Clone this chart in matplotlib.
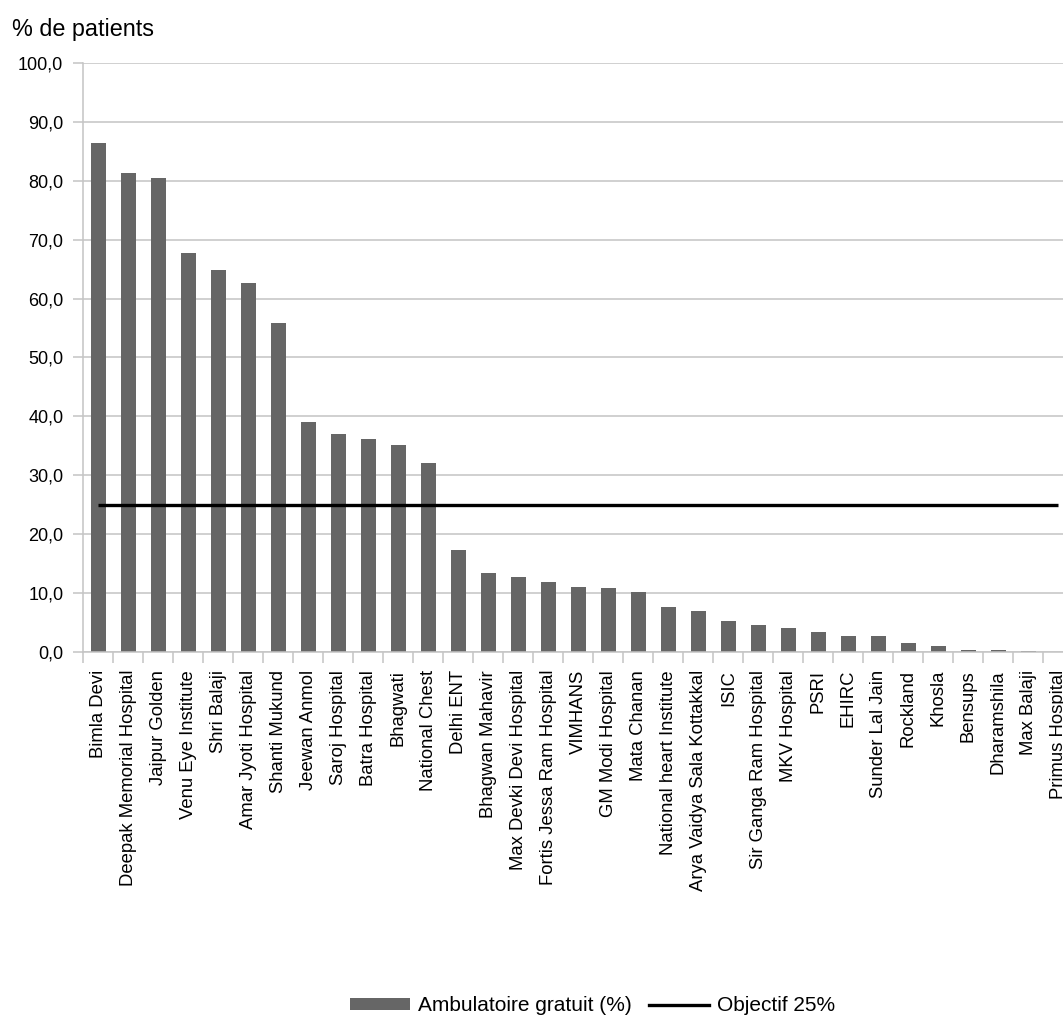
"""Ambulatoire gratuit par hôpital, avec objectif 25 %."""

import matplotlib
matplotlib.use("Agg")
import matplotlib.pyplot as plt
from matplotlib.lines import Line2D
from matplotlib.patches import Patch
from matplotlib.ticker import FixedLocator, FuncFormatter
import numpy as np

plt.rcParams["font.family"] = ["Liberation Sans", "DejaVu Sans"]

hospitals = [
    "Bimla Devi", "Deepak Memorial Hospital", "Jaipur Golden", "Venu Eye Institute",
    "Shri Balaji", "Amar Jyoti Hospital", "Shanti Mukund", "Jeewan Anmol",
    "Saroj Hospital", "Batra Hospital", "Bhagwati", "National Chest", "Delhi ENT",
    "Bhagwan Mahavir", "Max Devki Devi Hospital", "Fortis Jessa Ram Hospital",
    "VIMHANS", "GM Modi Hospital", "Mata Chanan", "National heart Institute",
    "Arya Vaidya Sala Kottakkal", "ISIC", "Sir Ganga Ram Hospital", "MKV Hospital",
    "PSRI", "EHIRC", "Sunder Lal Jain", "Rockland", "Khosla", "Bensups",
    "Dharamshila", "Max Balaji", "Primus Hospital",
]
free_opd = [
    86.4, 81.3, 80.5, 67.7, 64.9, 62.6, 55.9, 39.0, 37.0, 36.2, 35.1, 32.1, 17.3,
    13.4, 12.7, 11.9, 11.0, 10.8, 10.1, 7.6, 6.9, 5.2, 4.5, 4.0, 3.3, 2.7, 2.7,
    1.5, 1.0, 0.3, 0.3, 0.15, 0.0,
]
target = 25.0

BAR_COLOR = "#666666"
GRID_COLOR = "#c4c4c4"

fig = plt.figure(figsize=(10.63, 10.17), dpi=100)
# plot area runs slightly past the right edge, as in the original export
ax = fig.add_axes([0.0784, 0.359, 0.9313, 0.579])

x = np.arange(len(hospitals))
ax.bar(x, free_opd, width=0.5, color=BAR_COLOR, zorder=2)
ax.plot(x, [target] * len(x), color="black", lw=2.4, zorder=3,
        solid_capstyle="butt")

ax.set_xlim(-0.5, len(hospitals) - 0.5)
ax.set_ylim(0, 100)
ax.set_yticks(np.arange(0, 101, 10))
ax.yaxis.set_major_formatter(FuncFormatter(lambda v, _: f"{v:.1f}".replace(".", ",")))
ax.grid(axis="y", color=GRID_COLOR, lw=1.1, zorder=0)
ax.set_axisbelow(True)

ax.set_xticks(x)
ax.set_xticklabels(hospitals, rotation=90, fontsize=13.3)
ax.xaxis.set_minor_locator(FixedLocator(np.arange(-0.5, len(hospitals), 1.0)))
ax.tick_params(axis="x", which="major", length=0, pad=13)
ax.tick_params(axis="x", which="minor", length=8, width=1.1, color=GRID_COLOR)
ax.tick_params(axis="y", length=7.4, width=1.1, color=GRID_COLOR, labelsize=13, pad=7)

for side in ("top", "right"):
    ax.spines[side].set_visible(False)
for side in ("left", "bottom"):
    ax.spines[side].set_color(GRID_COLOR)
    ax.spines[side].set_linewidth(1.1)

fig.text(0.0113, 0.9646, "% de patients", fontsize=16.8, va="baseline", ha="left")

handles = [
    Patch(facecolor=BAR_COLOR, edgecolor="none", label="Ambulatoire gratuit (%)"),
    Line2D([], [], color="black", lw=2.4, label="Objectif 25%"),
]
fig.legend(handles=handles, loc="center left", bbox_to_anchor=(350 / 1063, 0.011),
           ncol=2, frameon=False, fontsize=15, handlelength=2.9, handleheight=0.5,
           columnspacing=0.8, handletextpad=0.38, borderpad=0, borderaxespad=0)

fig.savefig("out.png", dpi=100)
